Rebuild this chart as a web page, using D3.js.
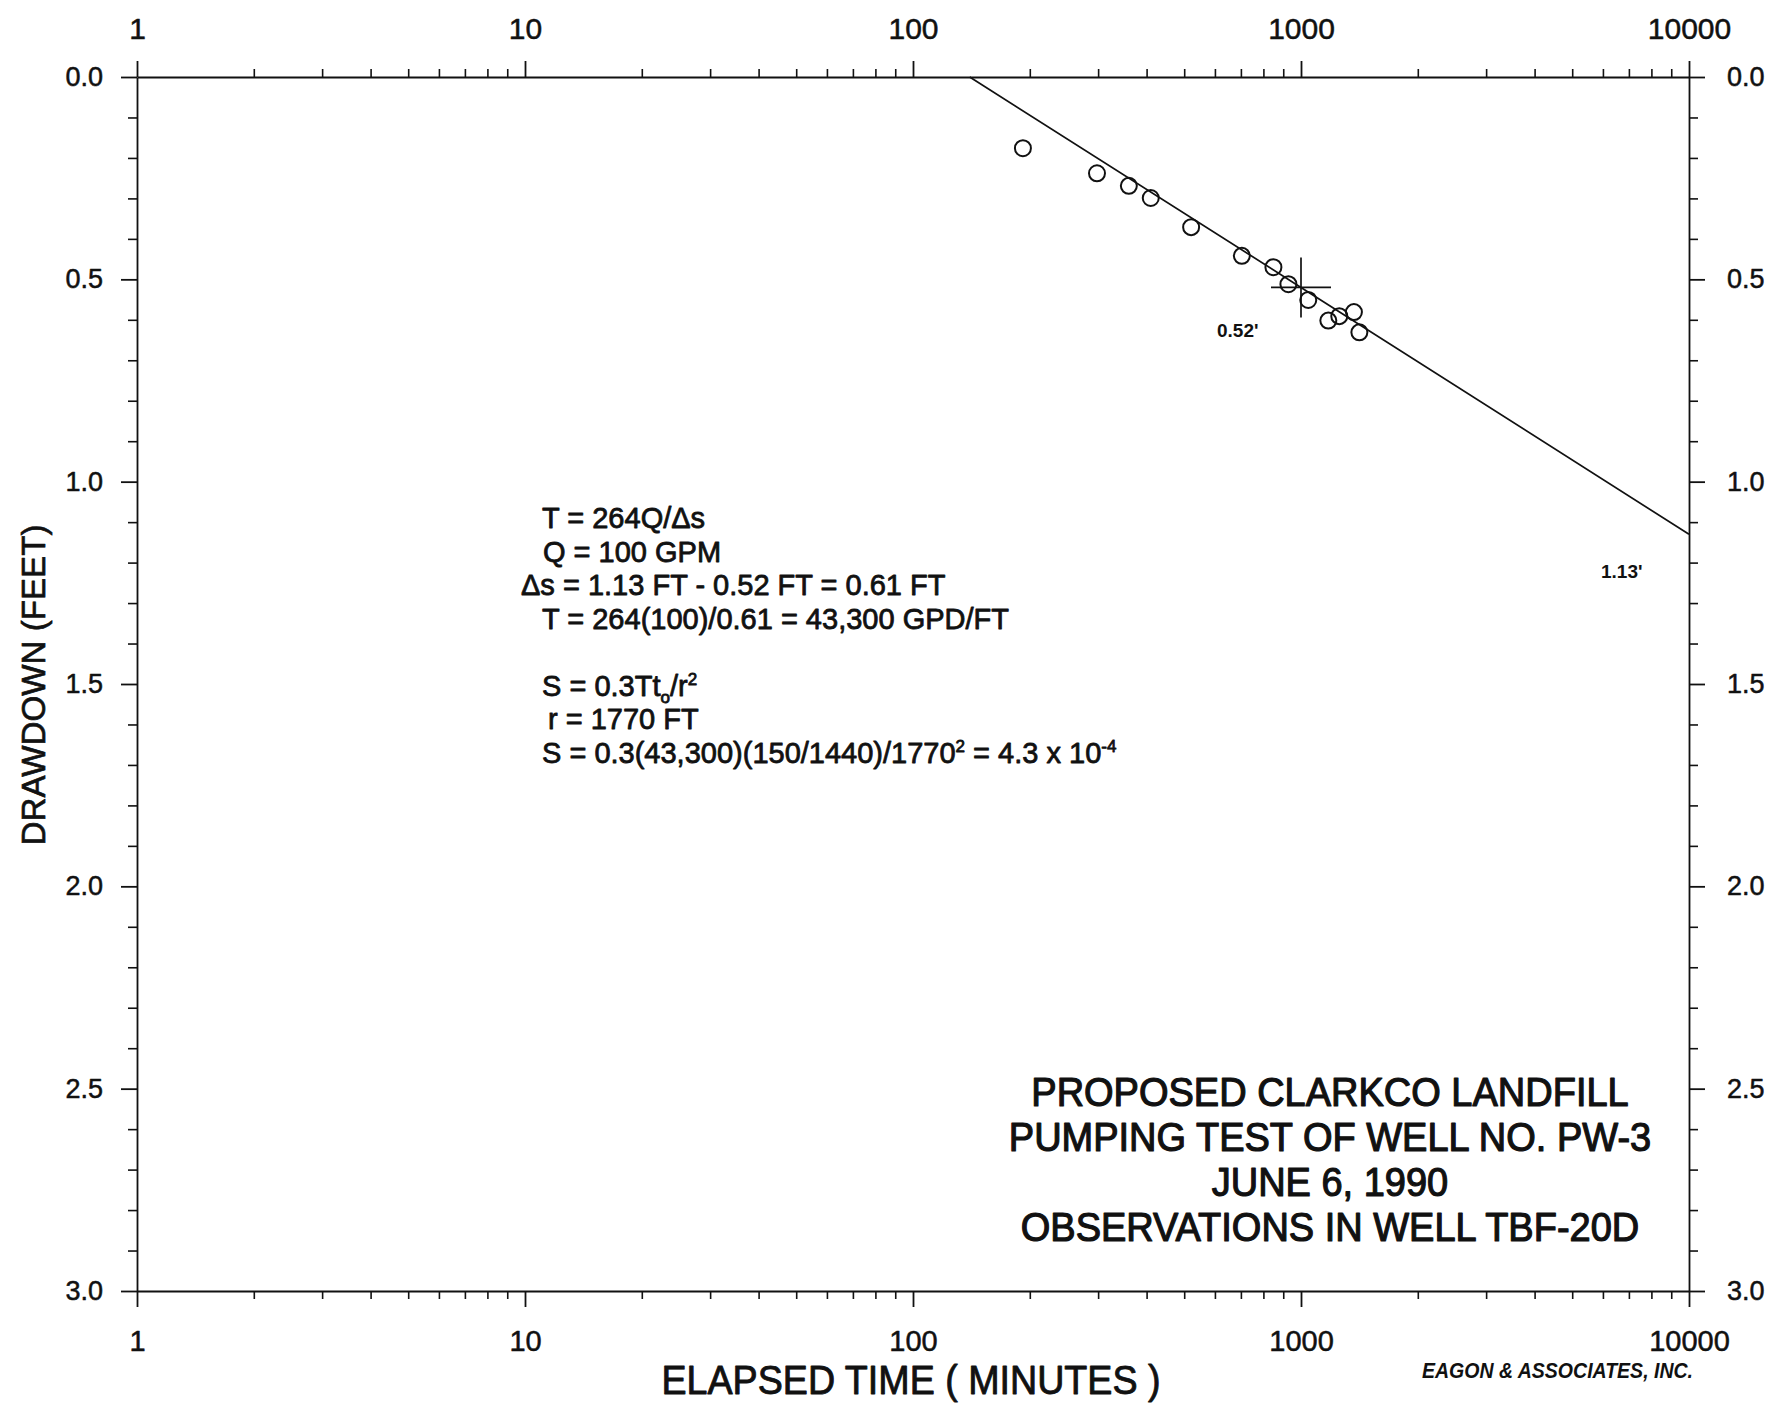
<!DOCTYPE html>
<html>
<head>
<meta charset="utf-8">
<title>Pumping Test PW-3 - Observations in Well TBF-20D</title>
<script src="https://cdn.jsdelivr.net/npm/d3@7"></script>
<style>
  html, body { margin: 0; padding: 0; background: #fff; }
  svg { display: block; }
  text { font-family: "Liberation Sans", Arial, Helvetica, sans-serif; fill: #111; }
</style>
</head>
<body>
<svg id="chart" width="1781" height="1404"></svg>
<script>
// Drawdown observations in well TBF-20D (elapsed time in minutes, drawdown in feet)
const elapsedMinutes = [192, 298, 360, 410, 521, 704, 849, 928, 1044, 1176, 1255, 1369, 1414];
const drawdownFeet   = [0.176, 0.238, 0.269, 0.299, 0.371, 0.442, 0.470, 0.512, 0.551, 0.602, 0.591, 0.581, 0.631];

// Straight-line (Cooper-Jacob) fit through the late-time data
const fitMinutes  = [140, 1000, 10000];
const fitDrawdown = [0, 0.52, 1.13];

// Drawdowns picked off the fit line one log cycle apart
const pickMinutes  = [1000, 10000];
const pickDrawdown = [0.52, 1.13];
const pickLabels   = ["0.52'", "1.13'"];

// Axis ticks and labels
const timeTicks          = [1, 10, 100, 1000, 10000];
const timeTickLabels     = ["1", "10", "100", "1000", "10000"];
const drawdownTicks      = [0, 0.5, 1.0, 1.5, 2.0, 2.5, 3.0];
const drawdownTickLabels = ["0.0", "0.5", "1.0", "1.5", "2.0", "2.5", "3.0"];

// Text blocks
const titleLines = [
  "PROPOSED CLARKCO LANDFILL",
  "PUMPING TEST OF WELL NO. PW-3",
  "JUNE 6, 1990",
  "OBSERVATIONS IN WELL TBF-20D"
];
const calcLines = [
  [{ t: "T = 264Q/\u0394s" }],
  [{ t: "Q = 100 GPM" }],
  [{ t: "\u0394s = 1.13 FT - 0.52 FT = 0.61 FT" }],
  [{ t: "T = 264(100)/0.61 = 43,300 GPD/FT" }],
  [],
  [{ t: "S = 0.3Tt" }, { t: "o", sub: true }, { t: "/r" }, { t: "2", sup: true }],
  [{ t: "r = 1770 FT" }],
  [{ t: "S = 0.3(43,300)(150/1440)/1770" }, { t: "2", sup: true }, { t: " = 4.3 x 10" }, { t: "-4", sup: true }]
];
const calcIndent = [542, 543, 521, 542, 542, 542, 548, 542];
const xAxisTitle = "ELAPSED TIME ( MINUTES )";
const yAxisTitle = "DRAWDOWN (FEET)";
const firmName   = "EAGON & ASSOCIATES, INC.";

const svg = d3.select("#chart");
const ink = "#111";

const x = d3.scaleLog().domain([1, 10000]).range([137, 1689]);
const y = d3.scaleLinear().domain([0, 3]).range([77, 1291]);

// minor ticks: 2..9 within each decade, 0.1 ft steps on drawdown
const timeMinor = [];
timeTicks.slice(0, -1).forEach(d => { for (let m = 2; m <= 9; m++) timeMinor.push(d * m); });
const drawdownMinor = d3.range(1, 30).filter(i => i % 5 !== 0).map(i => i / 10);

// printed lettering is a little heavier than the plain face
function heavy(sel, w) {
  sel.attr("stroke", ink).attr("stroke-width", w).attr("stroke-linejoin", "round");
}

function styleAxis(g, fontSize) {
  g.attr("font-family", null).attr("font-size", null);
  g.selectAll("path, line").attr("stroke", ink).attr("stroke-width", 1.8);
  g.selectAll("text").attr("font-size", fontSize).attr("fill", ink).call(heavy, 0.5);
}
function minorOnly(g) {
  g.select(".domain").remove();
  g.selectAll("line").attr("stroke", ink).attr("stroke-width", 1.6);
}

// top time axis
svg.append("g").attr("transform", `translate(0,${y(0)})`)
  .call(d3.axisTop(x).tickValues(timeTicks).tickFormat((d, i) => timeTickLabels[i])
    .tickSize(16).tickPadding(22).tickSizeOuter(0))
  .call(g => styleAxis(g, 30));
svg.append("g").attr("transform", `translate(0,${y(0)})`)
  .call(d3.axisTop(x).tickValues(timeMinor).tickFormat("").tickSize(8).tickSizeOuter(0))
  .call(minorOnly);

// bottom time axis
svg.append("g").attr("transform", `translate(0,${y(3)})`)
  .call(d3.axisBottom(x).tickValues(timeTicks).tickFormat((d, i) => timeTickLabels[i])
    .tickSize(16).tickPadding(23).tickSizeOuter(0))
  .call(g => styleAxis(g, 29));
svg.append("g").attr("transform", `translate(0,${y(3)})`)
  .call(d3.axisBottom(x).tickValues(timeMinor).tickFormat("").tickSize(8).tickSizeOuter(0))
  .call(minorOnly);

// left drawdown axis
svg.append("g").attr("transform", `translate(${x(1)},0)`)
  .call(d3.axisLeft(y).tickValues(drawdownTicks).tickFormat((d, i) => drawdownTickLabels[i])
    .tickSize(16).tickPadding(18).tickSizeOuter(0))
  .call(g => styleAxis(g, 27));
svg.append("g").attr("transform", `translate(${x(1)},0)`)
  .call(d3.axisLeft(y).tickValues(drawdownMinor).tickFormat("").tickSize(9).tickSizeOuter(0))
  .call(minorOnly);

// right drawdown axis
svg.append("g").attr("transform", `translate(${x(10000)},0)`)
  .call(d3.axisRight(y).tickValues(drawdownTicks).tickFormat((d, i) => drawdownTickLabels[i])
    .tickSize(16).tickPadding(22).tickSizeOuter(0))
  .call(g => styleAxis(g, 27));
svg.append("g").attr("transform", `translate(${x(10000)},0)`)
  .call(d3.axisRight(y).tickValues(drawdownMinor).tickFormat("").tickSize(9).tickSizeOuter(0))
  .call(minorOnly);

// fit line
const fitData = fitMinutes.map((t, i) => ({ t, s: fitDrawdown[i] }));
svg.append("path")
  .datum(fitData)
  .attr("fill", "none")
  .attr("stroke", ink)
  .attr("stroke-width", 1.7)
  .attr("d", d3.line().x(d => x(d.t)).y(d => y(d.s)));

// observations
const obs = elapsedMinutes.map((t, i) => ({ t, s: drawdownFeet[i] }));
svg.append("g").selectAll("circle")
  .data(obs)
  .join("circle")
  .attr("cx", d => x(d.t))
  .attr("cy", d => y(d.s))
  .attr("r", 8)
  .attr("fill", "none")
  .attr("stroke", ink)
  .attr("stroke-width", 2);

// crosshair at the 1000-minute pick
const arm = 30;
const cx = x(pickMinutes[0]), cy = y(pickDrawdown[0]);
svg.append("g").attr("stroke", ink).attr("stroke-width", 1.7)
  .call(g => {
    g.append("line").attr("x1", cx - arm).attr("x2", cx + arm).attr("y1", cy).attr("y2", cy);
    g.append("line").attr("x1", cx).attr("x2", cx).attr("y1", cy - arm).attr("y2", cy + arm);
  });

// picked drawdown labels
const pickOffsets = [[-84, 50], [-88, 44]];
svg.append("g").selectAll("text")
  .data(pickLabels)
  .join("text")
  .attr("x", (d, i) => x(pickMinutes[i]) + pickOffsets[i][0])
  .attr("y", (d, i) => y(pickDrawdown[i]) + pickOffsets[i][1])
  .attr("font-size", 19)
  .attr("font-weight", "bold")
  .text(d => d);

// transmissivity / storativity calculation
const calc = svg.append("g").attr("font-size", 29).call(heavy, 0.8);
calcLines.forEach((segs, i) => {
  if (!segs.length) return;
  const t = calc.append("text").attr("x", calcIndent[i]).attr("y", 528 + i * 33.5);
  segs.forEach(s => {
    const span = t.append("tspan").text(s.t);
    if (s.sup) span.attr("font-size", 17).attr("dy", -11);
    if (s.sub) span.attr("font-size", 17).attr("dy", 7);
    if (!s.sup && !s.sub && span.node().previousSibling) {
      const prev = d3.select(span.node().previousSibling);
      span.attr("dy", prev.attr("dy") ? -(+prev.attr("dy")) : null);
    }
  });
});

// title block, lettering condensed horizontally
svg.append("g")
  .attr("transform", "translate(1330,0) scale(0.95,1)")
  .selectAll("text")
  .data(titleLines)
  .join("text")
  .attr("x", 0)
  .attr("y", (d, i) => 1106 + i * 45)
  .attr("text-anchor", "middle")
  .attr("font-size", 40)
  .text(d => d)
  .call(heavy, 1.2);

// axis titles
svg.append("text")
  .attr("x", 911).attr("y", 1394)
  .attr("text-anchor", "middle")
  .attr("font-size", 40)
  .attr("textLength", 499)
  .attr("lengthAdjust", "spacingAndGlyphs")
  .text(xAxisTitle)
  .call(heavy, 0.9);

svg.append("text")
  .attr("transform", "translate(45,685) rotate(-90)")
  .attr("text-anchor", "middle")
  .attr("font-size", 34)
  .attr("textLength", 321)
  .attr("lengthAdjust", "spacingAndGlyphs")
  .text(yAxisTitle)
  .call(heavy, 0.7);

// firm credit
svg.append("text")
  .attr("x", 1422).attr("y", 1378)
  .attr("font-family", "'Liberation Serif', 'Times New Roman', serif")
  .attr("font-style", "italic")
  .attr("font-weight", "bold")
  .attr("font-size", 22)
  .attr("textLength", 271)
  .attr("lengthAdjust", "spacingAndGlyphs")
  .text(firmName);
</script>
</body>
</html>
